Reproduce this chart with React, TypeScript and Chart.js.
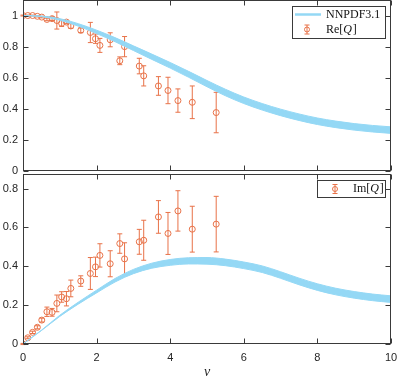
import React, { useEffect, useRef } from 'react';
import { Chart, registerables } from 'chart.js';

Chart.register(...registerables);

// ---- data ----
const nu = [0, 0.13, 0.26, 0.39, 0.51, 0.65, 0.79, 0.92, 1.05, 1.18, 1.3, 1.57, 1.83, 1.97, 2.09, 2.37, 2.63, 2.76, 3.16, 3.28, 3.68, 3.94, 4.21, 4.6, 5.25];
const reValues = [1.0, 1.0, 1.0, 0.995, 0.99, 0.975, 0.98, 0.968, 0.95, 0.958, 0.933, 0.905, 0.891, 0.851, 0.808, 0.844, 0.709, 0.8, 0.675, 0.612, 0.547, 0.518, 0.453, 0.442, 0.376];
const reErrors = [0.003, 0.003, 0.003, 0.004, 0.005, 0.008, 0.012, 0.055, 0.02, 0.01, 0.015, 0.015, 0.065, 0.03, 0.045, 0.045, 0.025, 0.065, 0.05, 0.065, 0.06, 0.085, 0.075, 0.105, 0.13];
const imValues = [0, 0.032, 0.06, 0.086, 0.123, 0.166, 0.163, 0.209, 0.242, 0.233, 0.286, 0.324, 0.363, 0.397, 0.456, 0.413, 0.517, 0.438, 0.526, 0.534, 0.654, 0.569, 0.685, 0.591, 0.617];
const imErrors = [0.003, 0.005, 0.006, 0.008, 0.01, 0.024, 0.02, 0.043, 0.027, 0.037, 0.043, 0.027, 0.082, 0.05, 0.06, 0.067, 0.05, 0.083, 0.064, 0.103, 0.084, 0.108, 0.104, 0.118, 0.143];

const curveNu = [0, 0.5, 1, 1.5, 2, 2.5, 3, 3.5, 4, 4.5, 5, 5.5, 6, 6.5, 7, 7.5, 8, 8.5, 9, 9.5, 10];
const reCurve = [1, 0.995, 0.975, 0.94, 0.895, 0.845, 0.79, 0.735, 0.68, 0.622, 0.562, 0.505, 0.455, 0.413, 0.377, 0.346, 0.32, 0.3, 0.284, 0.272, 0.263];
const reBand = [0, 0.002, 0.005, 0.008, 0.011, 0.013, 0.015, 0.017, 0.018, 0.019, 0.02, 0.021, 0.021, 0.021, 0.021, 0.021, 0.021, 0.021, 0.021, 0.021, 0.021];
const imCurve = [0, 0.07, 0.145, 0.21, 0.27, 0.328, 0.373, 0.403, 0.42, 0.428, 0.428, 0.42, 0.405, 0.385, 0.355, 0.322, 0.293, 0.27, 0.253, 0.24, 0.231];
const imBand = [0, 0.001, 0.003, 0.005, 0.007, 0.009, 0.011, 0.013, 0.015, 0.016, 0.017, 0.017, 0.017, 0.017, 0.017, 0.017, 0.017, 0.017, 0.017, 0.017, 0.017];

const xTicks = [0, 2, 4, 6, 8, 10];
const reTicks = [0, 0.2, 0.4, 0.6, 0.8, 1];
const imTicks = [0, 0.2, 0.4, 0.6, 0.8];

const curveLabel = 'NNPDF3.1';
const reLabel = ['Re[', 'Q', ']'];
const imLabel = ['Im[', 'Q', ']'];
const xTitle = 'ν';

// ---- styles ----
const ORANGE = 'rgb(232,114,72)';
const BLUE = 'rgb(148,216,245)';
const FRAME = '#3a3a3a';
const TEXT = '#262626';
const SANS = '"Liberation Sans", Arial, sans-serif';
const SERIF = '"Liberation Serif", "DejaVu Serif", serif';

type LegendRow = { kind: 'line' | 'err'; parts: string[] };

function makePlugins(
  errX: number[], errY: number[], errE: number[],
  yTickVals: number[],
  legendBox: { x: number; y: number; w: number; h: number; iconX: number; textX: number; rows: { y: number; row: LegendRow }[] }
) {
  const errorBars = {
    id: 'errorBars',
    beforeDatasetsDraw(chart: any) {
      const ctx = chart.ctx;
      const xs = chart.scales.x;
      const ys = chart.scales.y;
      ctx.save();
      ctx.strokeStyle = ORANGE;
      ctx.lineWidth = 1;
      for (let i = 0; i < errX.length; i++) {
        const px = xs.getPixelForValue(errX[i]);
        const top = ys.getPixelForValue(errY[i] + errE[i]);
        const bot = ys.getPixelForValue(errY[i] - errE[i]);
        ctx.beginPath();
        ctx.moveTo(px, top);
        ctx.lineTo(px, bot);
        ctx.moveTo(px - 2.5, top);
        ctx.lineTo(px + 2.5, top);
        ctx.moveTo(px - 2.5, bot);
        ctx.lineTo(px + 2.5, bot);
        ctx.stroke();
      }
      ctx.restore();
    },
  };
  const frame = {
    id: 'frame',
    afterDraw(chart: any) {
      const ctx = chart.ctx;
      const a = chart.chartArea;
      const xs = chart.scales.x;
      const ys = chart.scales.y;
      ctx.save();
      ctx.strokeStyle = FRAME;
      ctx.lineWidth = 1;
      const L = Math.round(a.left) + 0.5;
      const R = Math.round(a.right) - 0.5;
      const T = Math.round(a.top) + 0.5;
      const B = Math.round(a.bottom) - 0.5;
      ctx.strokeRect(L, T, R - L, B - T);
      const tl = 5;
      ctx.beginPath();
      for (const v of xTicks) {
        const px = Math.round(xs.getPixelForValue(v)) + 0.5;
        ctx.moveTo(px, B); ctx.lineTo(px, B - tl);
        ctx.moveTo(px, T); ctx.lineTo(px, T + tl);
      }
      for (const v of yTickVals) {
        const py = Math.round(ys.getPixelForValue(v)) + 0.5;
        ctx.moveTo(L, py); ctx.lineTo(L + tl, py);
        ctx.moveTo(R, py); ctx.lineTo(R - tl, py);
      }
      ctx.stroke();

      // legend
      const lb = legendBox;
      ctx.fillStyle = '#ffffff';
      ctx.fillRect(lb.x, lb.y, lb.w, lb.h);
      ctx.strokeStyle = FRAME;
      ctx.strokeRect(lb.x + 0.5, lb.y + 0.5, lb.w, lb.h);
      for (const r of lb.rows) {
        if (r.row.kind === 'line') {
          ctx.strokeStyle = BLUE;
          ctx.lineWidth = 2.5;
          ctx.beginPath();
          ctx.moveTo(lb.iconX - 12, r.y);
          ctx.lineTo(lb.iconX + 14, r.y);
          ctx.stroke();
        } else {
          ctx.strokeStyle = ORANGE;
          ctx.lineWidth = 1;
          ctx.beginPath();
          ctx.moveTo(lb.iconX, r.y - 4.5); ctx.lineTo(lb.iconX, r.y + 4.5);
          ctx.moveTo(lb.iconX - 2.5, r.y - 4.5); ctx.lineTo(lb.iconX + 2.5, r.y - 4.5);
          ctx.moveTo(lb.iconX - 2.5, r.y + 4.5); ctx.lineTo(lb.iconX + 2.5, r.y + 4.5);
          ctx.stroke();
          ctx.beginPath();
          ctx.arc(lb.iconX, r.y, 2.5, 0, Math.PI * 2);
          ctx.stroke();
        }
        ctx.fillStyle = '#111';
        ctx.textBaseline = 'middle';
        ctx.textAlign = 'left';
        let tx = lb.textX;
        r.row.parts.forEach((p, idx) => {
          const ital = r.row.kind === 'err' && idx === 1;
          ctx.font = (ital ? 'italic ' : '') + '12px ' + SERIF;
          ctx.fillText(p, tx, r.y);
          tx += ctx.measureText(p).width + (ital ? 0.8 : 0);
        });
      }
      ctx.restore();
    },
  };
  return [errorBars, frame];
}

function buildChart(
  canvas: HTMLCanvasElement,
  curve: number[], band: number[], vals: number[], errs: number[], label: string,
  yMax: number, yTickVals: number[], bottom: boolean,
  legendBox: any
) {
  const lower = curveNu.map((x, i) => ({ x, y: curve[i] - band[i] }));
  const upper = curveNu.map((x, i) => ({ x, y: curve[i] + band[i] }));
  const pts = nu.map((x, i) => ({ x, y: vals[i] }));
  const fmt = (v: any) => String(Math.round(Number(v) * 10) / 10);
  return new Chart(canvas, {
    type: 'line',
    data: {
      datasets: [
        { label: 'lower', data: lower, borderColor: BLUE, borderWidth: 1, pointRadius: 0, fill: false, cubicInterpolationMode: 'monotone' } as any,
        { label: curveLabel, data: upper, borderColor: BLUE, backgroundColor: BLUE, borderWidth: 1, pointRadius: 0, fill: '-1', cubicInterpolationMode: 'monotone' } as any,
        { label, data: pts, showLine: false, pointRadius: 3, pointStyle: 'circle', pointBorderColor: ORANGE, pointBackgroundColor: 'rgba(0,0,0,0)', pointBorderWidth: 1 } as any,
      ],
    },
    options: {
      animation: false,
      responsive: false,
      devicePixelRatio: 1,
      events: [],
      layout: { autoPadding: false, padding: { left: 0, right: 8, top: bottom ? 2 : 0, bottom: bottom ? 0 : 4 } },
      plugins: { legend: { display: false }, tooltip: { enabled: false } },
      scales: {
        x: {
          type: 'linear', min: 0, max: 10,
          display: bottom,
          grid: { display: false, drawTicks: false },
          border: { display: false },
          afterBuildTicks: (s: any) => { s.ticks = xTicks.map((v) => ({ value: v })); },
          afterFit: (s: any) => { if (bottom) s.height = 34; s.paddingLeft = 0; s.paddingRight = 0; },
          ticks: { font: { family: SANS, size: 11 }, color: TEXT, padding: 7, callback: fmt, maxRotation: 0 },
          title: { display: true, text: xTitle, font: { family: SERIF, size: 14, style: 'italic' }, color: TEXT, padding: { top: 0, bottom: -3 } },
        },
        y: {
          type: 'linear', min: 0, max: yMax,
          grid: { display: false, drawTicks: false },
          border: { display: false },
          afterBuildTicks: (s: any) => { s.ticks = yTickVals.map((v) => ({ value: v })); },
          afterFit: (s: any) => { s.width = 23; s.paddingTop = 0; s.paddingBottom = 0; },
          ticks: { font: { family: SANS, size: 11 }, color: TEXT, padding: 5, callback: fmt },
        },
      },
    } as any,
    plugins: makePlugins(nu, vals, errs, yTickVals, legendBox) as any,
  });
}

export default function App() {
  const topRef = useRef<HTMLCanvasElement>(null);
  const botRef = useRef<HTMLCanvasElement>(null);
  useEffect(() => {
    const c1 = buildChart(topRef.current!, reCurve, reBand, reValues, reErrors, reLabel.join(''), 1.1, reTicks, false, {
      x: 292, y: 6, w: 93, h: 32, iconX: 307, textX: 326,
      rows: [
        { y: 14.5, row: { kind: 'line', parts: [curveLabel] } },
        { y: 29.5, row: { kind: 'err', parts: reLabel } },
      ],
    });
    const c2 = buildChart(botRef.current!, imCurve, imBand, imValues, imErrors, imLabel.join(''), 0.875, imTicks, true, {
      x: 317, y: 8, w: 68, h: 17, iconX: 335, textX: 353,
      rows: [{ y: 17, row: { kind: 'err', parts: imLabel } }],
    });
    return () => { c1.destroy(); c2.destroy(); };
  }, []);
  return (
    <div style={{ position: 'absolute', left: 0, top: 0, width: 399, height: 378, background: '#fff' }}>
      <canvas ref={topRef} width={399} height={175} style={{ position: 'absolute', left: 0, top: 0, display: 'block' }} />
      <canvas ref={botRef} width={399} height={206} style={{ position: 'absolute', left: 0, top: 172, display: 'block' }} />
    </div>
  );
}
